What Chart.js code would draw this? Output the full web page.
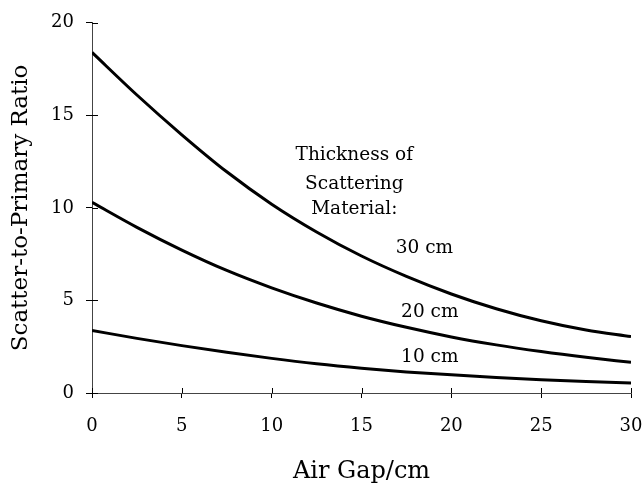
<!DOCTYPE html>
<html>
<head>
<meta charset="utf-8">
<script src="https://cdn.jsdelivr.net/npm/chart.js@4/dist/chart.umd.min.js"></script>
<style>
html,body{margin:0;padding:0;background:#fff;}
#wrap{width:644px;height:487px;position:relative;}
</style>
</head>
<body>
<div id="wrap"><canvas id="c" width="644" height="487"></canvas></div>
<script>
const airGap = [0, 2.5, 5, 7.5, 10, 12.5, 15, 17.5, 20, 22.5, 25, 27.5, 30];
const thick30 = [18.4, 16.1, 13.95, 11.95, 10.2, 8.7, 7.4, 6.3, 5.35, 4.55, 3.9, 3.4, 3.05];
const thick20 = [10.3, 8.95, 7.72, 6.62, 5.68, 4.86, 4.15, 3.55, 3.03, 2.6, 2.24, 1.93, 1.66];
const thick10 = [3.38, 2.95, 2.56, 2.2, 1.87, 1.58, 1.34, 1.14, 0.98, 0.84, 0.72, 0.62, 0.54];
const seriesNames = ['30 cm', '20 cm', '10 cm'];
const xTicks = [0, 5, 10, 15, 20, 25, 30];
const yTicks = [0, 5, 10, 15, 20];
const annotations = [
  {text: 'Thickness of', x: 14.6, y: 12.87},
  {text: 'Scattering', x: 14.6, y: 11.26},
  {text: 'Material:', x: 14.6, y: 9.92},
  {text: '30 cm', x: 18.5, y: 7.83},
  {text: '20 cm', x: 18.8, y: 4.34},
  {text: '10 cm', x: 18.8, y: 1.93}
];

const FONT = "'DejaVu Serif', serif";
const toXY = arr => arr.map((v, i) => ({x: airGap[i], y: v}));

const innerTicks = {
  id: 'innerTicks',
  afterDraw(chart) {
    const ctx = chart.ctx;
    const xs = chart.scales.x, ys = chart.scales.y;
    ctx.save();
    ctx.strokeStyle = '#000';
    ctx.lineWidth = 1;
    ctx.beginPath();
    xTicks.forEach(v => {
      const px = Math.round(xs.getPixelForValue(v)) + 0.5;
      ctx.moveTo(px, ys.bottom);
      ctx.lineTo(px, ys.bottom - 5);
    });
    yTicks.forEach(v => {
      const py = Math.round(ys.getPixelForValue(v)) + 0.5;
      ctx.moveTo(xs.left, py);
      ctx.lineTo(xs.left + 6, py);
    });
    ctx.stroke();
    ctx.fillStyle = '#000';
    ctx.font = "18.5px " + FONT;
    ctx.textAlign = 'center';
    ctx.textBaseline = 'middle';
    annotations.forEach(a => {
      ctx.fillText(a.text, xs.getPixelForValue(a.x), ys.getPixelForValue(a.y));
    });
    ctx.restore();
  }
};

new Chart(document.getElementById('c'), {
  type: 'scatter',
  data: {
    datasets: [thick30, thick20, thick10].map((d, i) => ({
      label: seriesNames[i],
      data: toXY(d),
      showLine: true,
      borderColor: '#000',
      backgroundColor: '#000',
      borderWidth: 3,
      pointRadius: 0,
      cubicInterpolationMode: 'monotone',
      fill: false
    }))
  },
  options: {
    responsive: false,
    animation: false,
    devicePixelRatio: 1,
    layout: {padding: {top: 21, right: 0, bottom: 0, left: 0}},
    plugins: {legend: {display: false}, tooltip: {enabled: false}},
    scales: {
      x: {
        type: 'linear', min: 0, max: 30,
        afterBuildTicks: s => { s.ticks = xTicks.map(v => ({value: v})); },
        afterFit: s => { s.height = 94; s.paddingRight = 13; s.paddingLeft = 0; },
        grid: {display: true, drawOnChartArea: false, drawTicks: true, tickLength: 5, color: '#000', lineWidth: 1},
        border: {display: true, color: '#444', width: 1},
        ticks: {color: '#000', font: {family: FONT, size: 18}, padding: 18, maxRotation: 0},
        title: {display: true, text: 'Air Gap/cm', color: '#000', font: {family: FONT, size: 24}, padding: {top: 0, bottom: 1}}
      },
      y: {
        type: 'linear', min: 0, max: 20,
        afterBuildTicks: s => { s.ticks = yTicks.map(v => ({value: v})); },
        afterFit: s => { s.width = 92; },
        grid: {display: true, drawOnChartArea: false, drawTicks: true, tickLength: 6, color: '#000', lineWidth: 1},
        border: {display: true, color: '#444', width: 1},
        ticks: {color: '#000', font: {family: FONT, size: 18}, padding: 12},
        title: {display: true, text: 'Scatter-to-Primary Ratio', color: '#000', font: {family: FONT, size: 23}, padding: {top: 7, bottom: 0}}
      }
    }
  },
  plugins: [innerTicks]
});
</script>
</body>
</html>
